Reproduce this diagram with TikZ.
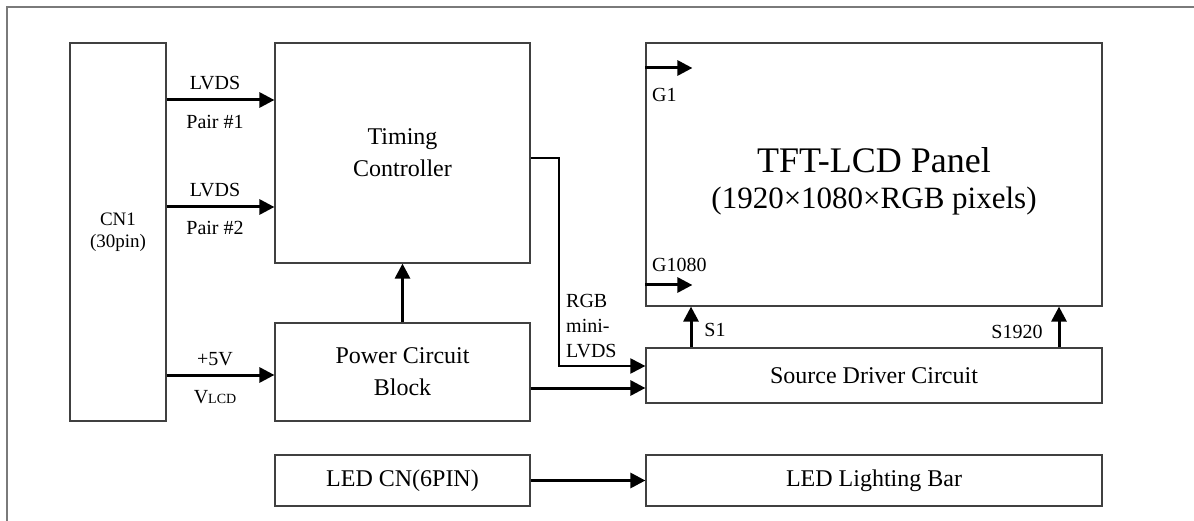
\documentclass[tikz,border=0pt]{standalone}
\usepackage{fontspec}
\setmainfont{Liberation Serif}
\usepackage{tikz}
\usepackage{xcolor}
\usetikzlibrary{arrows.meta}
\definecolor{boxline}{HTML}{404040}
\definecolor{frameline}{HTML}{7A7A7A}
\tikzset{
    block-box/.style = {draw=boxline, line width=1.2pt, rectangle, inner sep=0pt, align=center, font=\fontsize{24}{32}\selectfont},
    signal-label/.style = {inner sep=0pt, font=\fontsize{20}{25}\selectfont},
    bus-arrow/.style = {line width=3pt, -{Triangle[length=15pt, width=15pt]}},
    link-arrow/.style = {line width=2pt, -{Triangle[length=15pt, width=15pt]}},
}

\begin{document}
\begin{tikzpicture}[x=1pt, y=-1pt]
\useasboundingbox (0,0) rectangle (1194,521);
\draw[frameline, line width=1.5pt] (7,521) -- (7,7) -- (1194,7);

\node [block-box, minimum width=96pt, minimum height=378pt, font=\fontsize{19}{22}\selectfont] (cn1) at (118,232) {CN1\\(30pin)};
\node [block-box, minimum width=255pt, minimum height=220pt] (timing) at (402.5,153) {Timing\\Controller};
\node [block-box, minimum width=255pt, minimum height=98pt] (power) at (402.5,372) {Power Circuit\\Block};
\node [block-box, minimum width=255pt, minimum height=51pt] (ledcn) at (402.5,480.5) {LED CN(6PIN)};
\node [block-box, minimum width=456pt, minimum height=263pt] (panel) at (874,174.5) {};
\node [block-box, minimum width=456pt, minimum height=55pt] (source) at (874,375.5) {Source Driver Circuit};
\node [block-box, minimum width=456pt, minimum height=51pt] (ledbar) at (874,480.5) {LED Lighting Bar};

\node [inner sep=0pt, font=\fontsize{36}{40}\selectfont] (panel-title) at (874,160) {TFT-LCD Panel};
\node [inner sep=0pt, font=\fontsize{31}{34}\selectfont] (panel-pixels) at (874,201) {(1920×1080×RGB pixels)};

\draw [bus-arrow] (cn1.east |- 0,100) -- (timing.west |- 0,100);
\draw [bus-arrow] (cn1.east |- 0,207) -- (timing.west |- 0,207);
\draw [bus-arrow] (cn1.east |- 0,375) -- (power.west |- 0,375);
\draw [bus-arrow] (power.north) -- (timing.south);
\draw [bus-arrow] (ledcn.east) -- (ledbar.west);
\draw [bus-arrow] ([yshift=-16pt]power.east) -- ([yshift=-12.5pt]source.west);
\draw [link-arrow] ([yshift=-5pt]timing.east) -- ++(28,0) |- ([yshift=9.5pt]source.west);
\draw [bus-arrow] (source.north -| 691,0) -- (panel.south -| 691,0);
\draw [bus-arrow] (source.north -| 1059,0) -- (panel.south -| 1059,0);
\draw [bus-arrow] (panel.west |- 0,68) -- ++(47,0);
\draw [bus-arrow] (panel.west |- 0,285) -- ++(47,0);

\node [signal-label] (lvds-a) at (215,83) {LVDS};
\node [signal-label] (pair-a) at (215,122) {Pair \#1};
\node [signal-label] (lvds-b) at (215,190) {LVDS};
\node [signal-label] (pair-b) at (215,228) {Pair \#2};
\node [signal-label] (plus-five) at (215,359) {+5V};
\node [signal-label] (vlcd) at (215,397) {V{\fontsize{14}{16}\selectfont LCD}};
\node [signal-label, anchor=west, align=left] (rgb-label) at (566,326) {RGB\\mini-\\LVDS};
\node [signal-label, anchor=west] (g-first) at (652,95) {G1};
\node [signal-label, anchor=west] (g-last) at (652,265) {G1080};
\node [signal-label] (s-first) at (715,330) {S1};
\node [signal-label] (s-last) at (1017,332) {S1920};
\end{tikzpicture}
\end{document}
